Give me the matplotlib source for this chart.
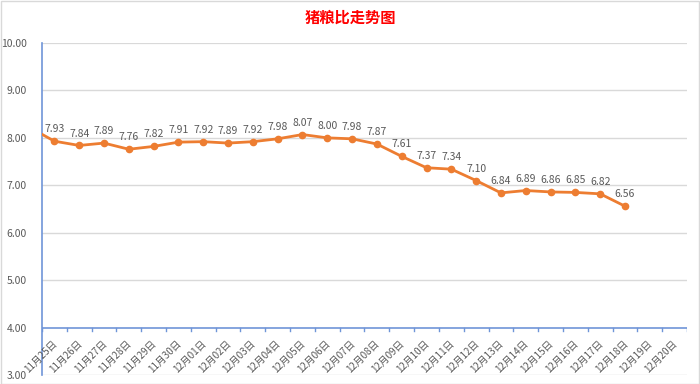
import matplotlib
matplotlib.use("Agg")
import matplotlib.pyplot as plt
from matplotlib.patches import Rectangle

plt.rcParams['font.family'] = ['Noto Sans CJK SC', 'DejaVu Sans']

# categories on the x axis (26 days, last two without data)
dates = ["11月25日", "11月26日", "11月27日", "11月28日", "11月29日", "11月30日",
         "12月01日", "12月02日", "12月03日", "12月04日", "12月05日", "12月06日",
         "12月07日", "12月08日", "12月09日", "12月10日", "12月11日", "12月12日",
         "12月13日", "12月14日", "12月15日", "12月16日", "12月17日", "12月18日",
         "12月19日", "12月20日"]
ratio = [7.93, 7.84, 7.89, 7.76, 7.82, 7.91, 7.92, 7.89, 7.92, 7.98, 8.07,
         8.00, 7.98, 7.87, 7.61, 7.37, 7.34, 7.10, 6.84, 6.89, 6.86, 6.85,
         6.82, 6.56]
# the line comes in from a point left of the first category (not labelled)
prev_ratio = 8.22
yticks = [3, 4, 5, 6, 7, 8, 9, 10]

orange = '#ED7D31'
blue = '#6F95D8'
grid = '#D9D9D9'
text_gray = '#595959'

fig = plt.figure(figsize=(7, 3.84), dpi=100)
ax = fig.add_axes([0.06, 0.0234, 0.9214, 0.8646])
ax.set_xlim(-0.5, len(dates) - 0.5)
ax.set_ylim(3, 10)

for s in ['top', 'right', 'bottom']:
    ax.spines[s].set_visible(False)
ax.spines['left'].set_color(blue)
ax.spines['left'].set_linewidth(1.2)

# gridlines
for v in yticks:
    if v == 4:
        continue
    ax.axhline(v, color=grid, lw=1.6 if v == 10 else 1.0, zorder=0)

# horizontal axis crosses at 4.00
ax.axhline(4, color=blue, lw=1.2, zorder=1)
for i in range(len(dates) + 1):
    ax.plot([i - 0.5, i - 0.5], [4, 3.93], color=blue, lw=1.0, zorder=1)

ax.set_xticks([])
ax.set_yticks(yticks)
ax.set_yticklabels(["%.2f" % v for v in yticks])
ax.tick_params(axis='y', length=0, pad=11, labelsize=7.5, labelcolor=text_gray)

xs = [-1] + list(range(len(ratio)))
ys = [prev_ratio] + ratio
ax.plot(xs, ys, color=orange, lw=2.0, zorder=3, clip_on=True)
ax.plot(range(len(ratio)), ratio, 'o', color=orange, ms=4.5, zorder=4)

for i, v in enumerate(ratio):
    ax.annotate("%.2f" % v, (i, v), xytext=(0, 5), textcoords='offset points',
                ha='center', va='bottom', fontsize=7.5, color=text_gray)

for i, d in enumerate(dates):
    ax.annotate(d, (i - 0.1, 4), xytext=(0, -8), textcoords='offset points',
                ha='right', va='top', rotation=45, rotation_mode='anchor',
                fontsize=7, color=text_gray, annotation_clip=False)

fig.text(0.5, 1 - 18 / 384, "猪粮比走势图", ha='center', va='center',
         fontsize=11, fontweight='bold', color='#FF0000')

fig.patches.append(Rectangle((0.001, 0.001), 0.997, 0.997, transform=fig.transFigure,
                             fill=False, edgecolor=grid, lw=1.0))

fig.savefig("out.png", dpi=100, facecolor='white')
